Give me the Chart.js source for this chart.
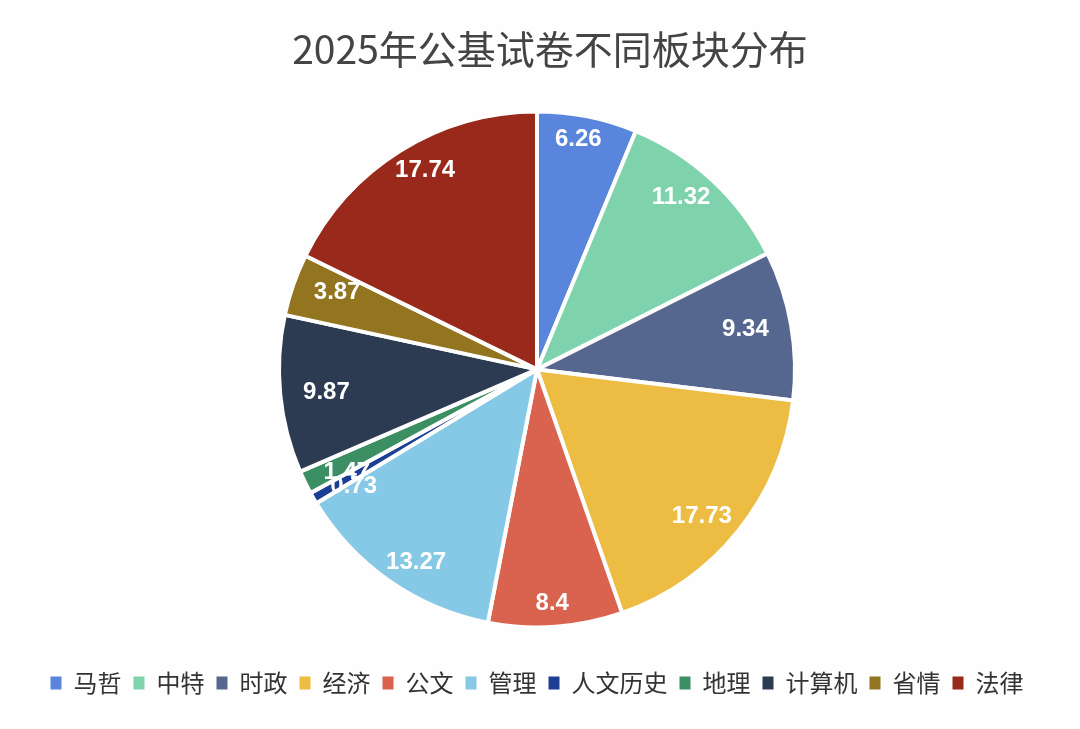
<!DOCTYPE html>
<html lang="en">
<head>
    <meta charset="UTF-8">
    <title>2025年公基试卷不同板块分布</title>
    <script src="https://cdn.jsdelivr.net/npm/chart.js"></script>
    <style>
        body { margin: 0; background: #fefefe; }
        canvas { display: block; }
    </style>
</head>
<body>
    <canvas id="pieChart" width="1080" height="729"></canvas>

    <script>
        const chartTitle = "2025年公基试卷不同板块分布";
        const categories = ["马哲", "中特", "时政", "经济", "公文", "管理", "人文历史", "地理", "计算机", "省情", "法律"];
        const shares = [6.26, 11.32, 9.34, 17.73, 8.4, 13.27, 0.73, 1.47, 9.87, 3.87, 17.74];
        const sliceColors = ["#5a85dc", "#7fd3ac", "#56678f", "#ecbd42", "#d9634f", "#85c9e6", "#1c3f94", "#3c8f63", "#2c3a52", "#93741f", "#98291b"];

        const cjkFont = '"Noto Sans CJK SC", "Noto Sans", sans-serif';

        // Value labels sit near the outer edge of each slice
        const sliceLabels = {
            id: "sliceLabels",
            afterDatasetsDraw(chart) {
                const ctx = chart.ctx;
                ctx.save();
                ctx.font = 'bold 24px "Liberation Sans", Arial, sans-serif';
                ctx.fillStyle = "#ffffff";
                ctx.textAlign = "center";
                ctx.textBaseline = "middle";
                chart.getDatasetMeta(0).data.forEach((arc, i) => {
                    const p = arc.getProps(["x", "y", "startAngle", "endAngle", "outerRadius"], true);
                    const mid = (p.startAngle + p.endAngle) / 2;
                    // the reference puts them closer in sideways than up and down
                    const x = p.x + Math.cos(mid) * p.outerRadius * 0.82;
                    const y = p.y + Math.sin(mid) * p.outerRadius * 0.91;
                    ctx.fillText(String(shares[i]), x, y);
                });
                ctx.restore();
            }
        };

        // The title in the picture is a little right of the pie centre
        const shiftTitle = {
            id: "shiftTitle",
            afterLayout(chart) {
                chart.titleBlock.left += 13;
                chart.titleBlock.right += 13;
            }
        };

        new Chart(document.getElementById("pieChart"), {
            type: "pie",
            data: {
                labels: categories,
                datasets: [{
                    data: shares,
                    backgroundColor: sliceColors,
                    borderColor: "#fefefe",
                    borderWidth: 4,
                    radius: 258
                }]
            },
            options: {
                responsive: false,
                animation: false,
                layout: { padding: { top: 26, bottom: 24, right: 6 } },
                plugins: {
                    title: {
                        display: true,
                        text: chartTitle,
                        color: "#444444",
                        font: { family: cjkFont, size: 39, weight: "normal" },
                        padding: { top: 0, bottom: 7 }
                    },
                    legend: {
                        position: "bottom",
                        labels: {
                            boxWidth: 11,
                            boxHeight: 13,
                            padding: 12,
                            color: "#333333",
                            font: { family: cjkFont, size: 24 },
                            generateLabels(chart) {
                                const items = Chart.overrides.pie.plugins.legend.labels.generateLabels(chart);
                                items.forEach(item => { item.lineWidth = 0; });
                                return items;
                            }
                        }
                    },
                    tooltip: { enabled: false }
                }
            },
            plugins: [sliceLabels, shiftTitle]
        });
    </script>
</body>
</html>
